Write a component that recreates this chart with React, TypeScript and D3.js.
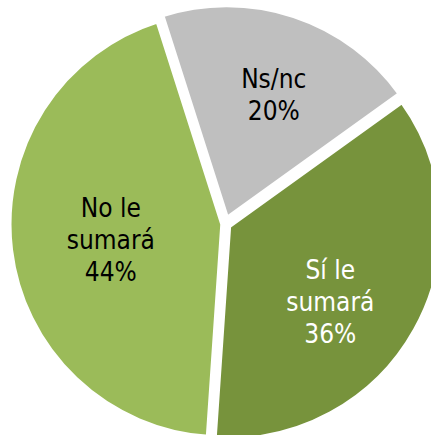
import React from "react";
import * as d3 from "d3";

const categories = ["Ns/nc", "Sí le sumará", "No le sumará"];
const values = [20, 36, 44];
const labelLines = [["Ns/nc", "20%"], ["Sí le", "sumará", "36%"], ["No le", "sumará", "44%"]];
const colors = ["#BFBFBF", "#77933C", "#9BBB59"];
const textColors = ["#000000", "#FFFFFF", "#000000"];

const W = 431;
const H = 435;
const CX = 225;
const CY = 224;
const RVIS = 211;
const GAP = 4.5;
const explode = [6, 4.5, 2.5];
const labelRadius = [133, 132, 116];
const labelShift = [[7, -3], [-10, 13], [1, 2]];
const FONT = 26;
const LH = 32;
const CAP = 19;

export default function App() {
  const data = categories.map((c, i) => ({ c, v: values[i], i }));
  const pie = d3
    .pie<any>()
    .value((d) => d.v)
    .sort(null)
    .startAngle((-17.7 * Math.PI) / 180)
    .endAngle((-17.7 * Math.PI) / 180 + 2 * Math.PI);
  const arcs = pie(data);
  const arc = d3.arc<any>().innerRadius(0).outerRadius(RVIS + GAP / 2);

  return (
    <svg
      width={W}
      height={H}
      style={{ position: "absolute", left: 0, top: 0, background: "#fff" }}
    >
      <g transform={`translate(${CX},${CY})`}>
        {arcs.map((a, i) => {
          const mid = (a.startAngle + a.endAngle) / 2;
          const ox = Math.sin(mid) * explode[i];
          const oy = -Math.cos(mid) * explode[i];
          return (
            <path
              key={i}
              d={arc(a) as string}
              transform={`translate(${ox},${oy})`}
              fill={colors[i]}
              stroke="#fff"
              strokeWidth={GAP}
              strokeLinejoin="miter"
            />
          );
        })}
        {arcs.map((a, i) => {
          const mid = (a.startAngle + a.endAngle) / 2;
          const x = Math.sin(mid) * labelRadius[i] + labelShift[i][0];
          const y = -Math.cos(mid) * labelRadius[i] + labelShift[i][1];
          const lines = labelLines[i];
          const firstBase = y - ((lines.length - 1) * LH) / 2 + CAP / 2;
          return (
            <text
              key={"t" + i}
              textAnchor="middle"
              fill={textColors[i]}
              fontFamily="'DejaVu Sans Condensed', 'DejaVu Sans', sans-serif"
              fontStretch="condensed"
              fontSize={FONT}
            >
              {lines.map((l, j) => (
                <tspan key={j} x={x} y={firstBase + j * LH}>
                  {l}
                </tspan>
              ))}
            </text>
          );
        })}
      </g>
    </svg>
  );
}
